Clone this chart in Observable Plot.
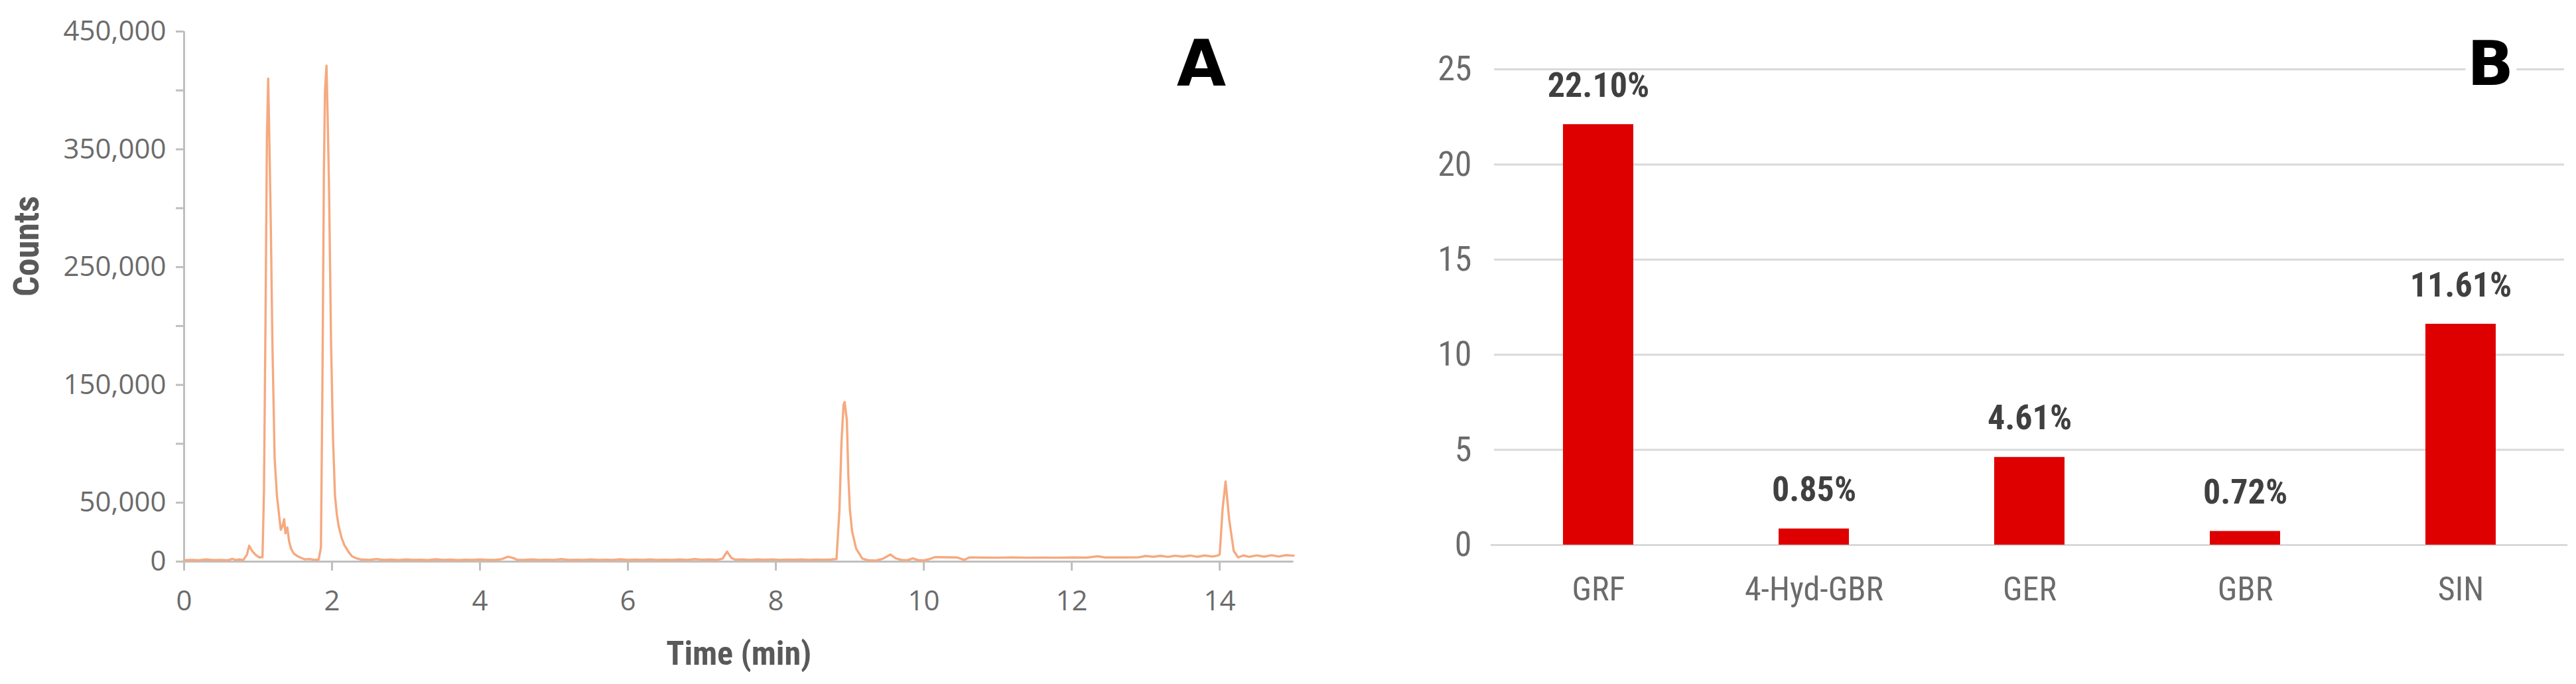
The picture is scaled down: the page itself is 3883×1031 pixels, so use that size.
<!DOCTYPE html>
<html>
<head>
<meta charset="utf-8">
<script src="https://cdn.jsdelivr.net/npm/d3@7"></script>
<script src="https://cdn.jsdelivr.net/npm/@observablehq/plot@0.6"></script>
<style>
  html, body { margin: 0; padding: 0; background: #fff; }
  #wrap { display: flex; width: 3883px; height: 1031px; }
  #wrap svg { display: block; }
</style>
</head>
<body>
<div id="wrap"></div>
<script>
// ---------- Panel A: chromatogram ----------
const timeMin = [
  0.00,0.10,0.20,0.30,0.40,0.50,0.60,0.65,0.70,0.75,0.80,0.85,0.88,0.92,0.97,1.02,1.06,
  1.08,1.10,1.12,1.137,1.155,1.173,1.194,1.224,1.255,1.28,1.307,1.33,1.353,1.37,1.395,1.42,1.446,1.48,1.523,1.57,1.626,1.70,1.76,1.82,
  1.85,1.87,1.89,1.905,1.925,1.94,1.96,1.987,2.013,2.04,2.065,2.09,2.13,2.167,2.22,2.27,2.33,2.395,
  2.5,2.6,2.7,2.8,2.9,3.0,3.1,3.2,3.3,3.4,3.5,3.6,3.7,3.8,3.9,4.0,4.1,4.2,4.3,4.38,4.45,4.5,4.6,4.7,4.8,4.9,
  5.0,5.1,5.2,5.3,5.4,5.5,5.6,5.7,5.8,5.9,6.0,6.1,6.2,6.3,6.4,6.5,6.6,6.7,6.8,6.9,7.0,7.1,7.2,7.28,7.34,7.40,7.45,
  7.55,7.65,7.75,7.85,7.95,8.05,8.15,8.25,8.35,8.45,8.55,8.65,8.75,8.82,8.86,8.887,8.915,8.93,8.96,8.98,9.0,9.03,9.085,9.17,
  9.25,9.35,9.45,9.55,9.62,9.7,9.78,9.85,9.92,10.0,10.08,10.15,10.3,10.45,10.55,10.62,10.8,11.0,11.2,11.4,11.6,11.8,12.0,12.2,
  12.35,12.45,12.7,12.9,13.0,13.1,13.2,13.3,13.4,13.5,13.6,13.7,13.8,13.9,13.97,14.0,14.04,14.08,14.13,14.19,14.25,
  14.32,14.4,14.5,14.6,14.7,14.8,14.9,15.0
];
const counts = [
  1200,1500,1100,1800,1300,1500,1200,2400,1300,1900,1200,6000,13500,9000,5500,3500,3800,
  60000,200000,360000,410000,350000,282000,185000,88000,56000,42000,27000,30000,36000,24000,29000,17000,11000,7000,5000,3500,2000,2200,1500,1800,
  12000,150000,330000,400000,421000,380000,315000,185000,105000,56000,40000,30000,20000,14000,8500,4500,2800,1800,
  1500,2200,1400,1700,1300,1800,1400,1600,1300,2000,1500,1700,1300,1600,1400,1800,1500,1400,2200,4200,3000,1600,1500,1800,1400,1600,
  1500,2100,1400,1600,1500,1900,1400,1600,1500,2000,1400,1700,1500,1900,1400,1600,1500,1800,1500,2100,1600,1800,1500,2500,8500,3000,1700,
  1900,1500,1800,1600,1900,1500,1700,1600,1800,1500,1700,1600,1800,2200,44000,101000,133000,135500,120000,73000,45000,26000,11000,2500,
  1200,900,2500,6000,2800,1500,1200,2800,1300,1000,2200,3800,3700,3500,1500,3600,3400,3300,3500,3300,3400,3300,3500,3400,
  4500,3500,3500,3600,4800,4100,4900,4000,5000,4200,5100,4100,5200,4300,5000,6000,45000,68000,35000,9000,3500,
  5200,4000,5300,4200,5400,4300,5500,5000
];
const yTicksA = [0,50000,100000,150000,200000,250000,300000,350000,400000,450000];
const yLabelsA = [0,50000,150000,250000,350000,450000];
const xTicksA = [0,2,4,6,8,10,12,14];

// ---------- Panel B: bar chart ----------
const categories = ["GRF","4-Hyd-GBR","GER","GBR","SIN"];
const percents = [22.10,0.85,4.61,0.72,11.61];
const percentLabels = ["22.10%","0.85%","4.61%","0.72%","11.61%"];
const yTicksB = [0,5,10,15,20,25];

const chrom = timeMin.map((t,i) => ({t, c: counts[i]}));
const bars = categories.map((cat,i) => ({cat, v: percents[i], label: percentLabels[i]}));

const narrow = "'Liberation Sans Narrow', 'Arial Narrow', 'Roboto Condensed', Roboto, sans-serif";
const wide = "'Open Sans', 'Noto Sans', sans-serif";
const grayAxis = "#BFBFBF";
const fmt = d3.format(",");

const plotA = Plot.plot({
  width: 2000, height: 1031,
  marginLeft: 277, marginRight: 50.5, marginTop: 47, marginBottom: 185,
  x: {domain: [0, 15]},
  y: {domain: [0, 450000]},
  style: {background: "white", fontFamily: wide},
  marks: [
    Plot.axisY({ticks: yTicksA, tickSize: 12, tickPadding: 15, stroke: grayAxis, strokeWidth: 3,
      fill: "#6b6b6b", fontSize: 42, fontFamily: wide, label: null,
      tickFormat: d => yLabelsA.includes(d) ? fmt(d) : ""}),
    Plot.axisX({ticks: xTicksA, tickSize: 14, tickPadding: 30, stroke: grayAxis, strokeWidth: 3,
      fill: "#6b6b6b", fontSize: 42, fontFamily: wide, label: null}),
    Plot.ruleX([0], {stroke: grayAxis, strokeWidth: 3}),
    Plot.ruleY([0], {stroke: grayAxis, strokeWidth: 3}),
    Plot.line(chrom, {x: "t", y: "c", stroke: "#F6A97F", strokeWidth: 3.4, curve: "linear"}),
    Plot.text(["Time (min)"], {frameAnchor: "bottom", text: d => d, dy: 139, lineAnchor: "middle",
      fontSize: 50, fontWeight: "bold", fontFamily: narrow, fill: "#595959"}),
    Plot.text(["Counts"], {frameAnchor: "left", text: d => d, dx: -237, rotate: -90, lineAnchor: "middle",
      fontSize: 54, fontWeight: "bold", fontFamily: narrow, fill: "#595959"}),
    Plot.text(["A"], {frameAnchor: "top-right", text: d => d, dx: -139, dy: 13, lineAnchor: "top",
      textAnchor: "middle", fontSize: 96, fontWeight: 900, fontFamily: "'DejaVu Sans', sans-serif", fill: "#000"})
  ]
});

const plotB = Plot.plot({
  width: 1883, height: 1031,
  marginLeft: 245, marginRight: 10, marginTop: 104, marginBottom: 210,
  x: {domain: categories, paddingInner: 0.674, paddingOuter: 0.337},
  y: {domain: [0, 25]},
  style: {background: "white", fontFamily: narrow},
  marks: [
    Plot.ruleY(yTicksB.filter(d => d > 0), {stroke: "#D9D9D9", strokeWidth: 3, insetLeft: 7, insetRight: 8}),
    Plot.ruleY([0], {stroke: "#D9D9D9", strokeWidth: 3, insetLeft: 2, insetRight: 3}),
    Plot.barY(bars, {x: "cat", y: "v", fill: "#DE0000"}),
    Plot.text(bars, {x: "cat", y: "v", text: "label", dy: -42, lineAnchor: "bottom",
      fontSize: 52, fontWeight: "bold", fontFamily: narrow, fill: "#404040"}),
    Plot.axisY({ticks: yTicksB, tickSize: 0, tickPadding: 27, label: null,
      fill: "#6b6b6b", fontSize: 52, fontFamily: narrow}),
    Plot.axisX({tickSize: 0, tickPadding: 48, label: null,
      fill: "#6b6b6b", fontSize: 50, fontFamily: narrow}),
    Plot.text(["B"], {frameAnchor: "top-right", text: d => d, dx: -119.5, dy: -42, lineAnchor: "top",
      textAnchor: "middle", fontSize: 92, fontWeight: 900, fontFamily: "'DejaVu Sans', sans-serif",
      fill: "#000", stroke: "white", strokeWidth: 22, paintOrder: "stroke"})
  ]
});

document.getElementById("wrap").append(plotA, plotB);
</script>
</body>
</html>
